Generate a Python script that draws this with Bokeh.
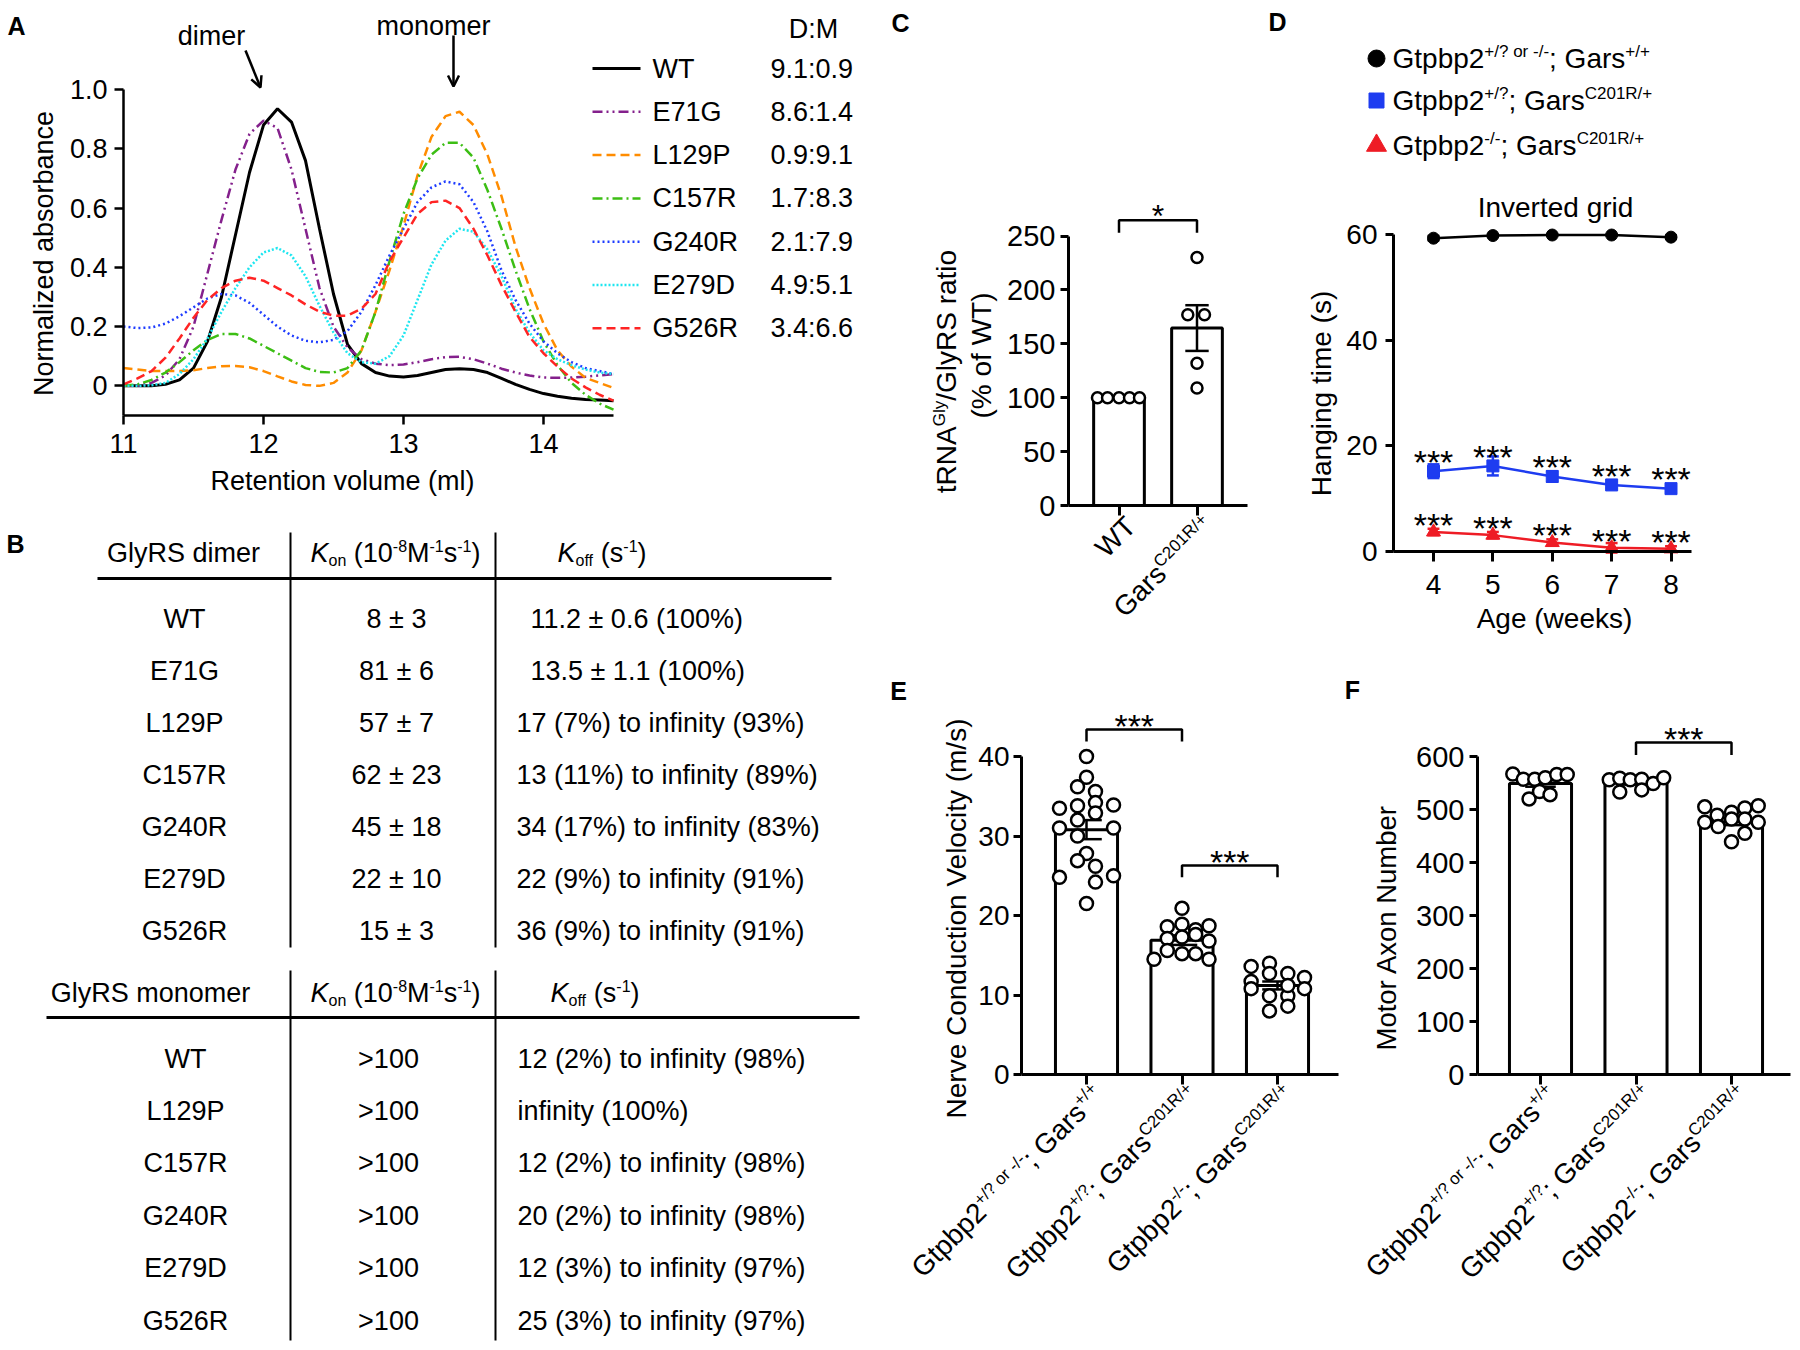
import math
from bokeh.plotting import figure
from bokeh.models import Range1d, FixedTicker, Label, Arrow, OpenHead
from bokeh.layouts import row, column
from bokeh.embed import file_html
from bokeh.resources import INLINE

FONT = "Liberation Sans"

# ---------------- Panel A data ----------------
vol = [11.0, 11.1, 11.2, 11.3, 11.4, 11.5, 11.6, 11.7, 11.8, 11.9, 12.0, 12.1,
       12.2, 12.3, 12.4, 12.5, 12.6, 12.7, 12.8, 12.9, 13.0, 13.1, 13.2, 13.3,
       13.4, 13.5, 13.6, 13.7, 13.8, 13.9, 14.0, 14.1, 14.2, 14.3, 14.4, 14.5]
abs_WT = [0.0, 0.0, 0.0, 0.005, 0.02, 0.06, 0.15, 0.30, 0.51, 0.72, 0.88, 0.935,
          0.89, 0.76, 0.53, 0.31, 0.14, 0.075, 0.045, 0.033, 0.03, 0.035, 0.045, 0.055,
          0.058, 0.055, 0.045, 0.025, 0.005, -0.012, -0.026, -0.035, -0.042, -0.046, -0.048, -0.05]
abs_E71G = [0.0, 0.0, 0.01, 0.035, 0.09, 0.2, 0.38, 0.56, 0.73, 0.85, 0.895, 0.87,
            0.73, 0.53, 0.33, 0.2, 0.13, 0.09, 0.075, 0.07, 0.072, 0.08, 0.09, 0.097,
            0.098, 0.09, 0.075, 0.058, 0.045, 0.035, 0.028, 0.027, 0.028, 0.031, 0.035, 0.04]
abs_L129P = [0.06, 0.055, 0.05, 0.05, 0.05, 0.053, 0.06, 0.066, 0.067, 0.063, 0.05, 0.032,
             0.015, 0.003, 0.0, 0.01, 0.045, 0.12, 0.25, 0.39, 0.54, 0.71, 0.84, 0.91,
             0.925, 0.88, 0.78, 0.64, 0.47, 0.33, 0.21, 0.12, 0.065, 0.027, 0.01, -0.007]
abs_C157R = [0.0, 0.005, 0.02, 0.045, 0.08, 0.12, 0.155, 0.175, 0.175, 0.16, 0.135, 0.11,
             0.085, 0.06, 0.047, 0.045, 0.06, 0.12, 0.25, 0.42, 0.58, 0.70, 0.78, 0.82,
             0.82, 0.77, 0.66, 0.53, 0.39, 0.26, 0.15, 0.07, 0.01, -0.03, -0.06, -0.08]
abs_G240R = [0.2, 0.195, 0.197, 0.21, 0.235, 0.265, 0.295, 0.31, 0.305, 0.28, 0.24, 0.2,
             0.17, 0.152, 0.147, 0.155, 0.185, 0.25, 0.34, 0.44, 0.53, 0.62, 0.67, 0.69,
             0.68, 0.62, 0.52, 0.39, 0.29, 0.21, 0.15, 0.11, 0.08, 0.06, 0.05, 0.04]
abs_E279D = [0.0, 0.0, 0.002, 0.01, 0.04, 0.09, 0.16, 0.25, 0.33, 0.40, 0.45, 0.465,
             0.44, 0.37, 0.27, 0.18, 0.11, 0.08, 0.075, 0.1, 0.17, 0.29, 0.41, 0.49,
             0.53, 0.52, 0.46, 0.37, 0.26, 0.18, 0.12, 0.09, 0.07, 0.055, 0.045, 0.04]
abs_G526R = [0.005, 0.025, 0.05, 0.095, 0.16, 0.23, 0.29, 0.33, 0.355, 0.365, 0.355, 0.33,
             0.305, 0.275, 0.25, 0.237, 0.237, 0.26, 0.31, 0.42, 0.5, 0.58, 0.62, 0.625,
             0.6, 0.53, 0.44, 0.34, 0.25, 0.165, 0.11, 0.065, 0.025, -0.005, -0.03, -0.05]
variants = ["WT", "E71G", "L129P", "C157R", "G240R", "E279D", "G526R"]
dm_ratio = ["9.1:0.9", "8.6:1.4", "0.9:9.1", "1.7:8.3", "2.1:7.9", "4.9:5.1", "3.4:6.6"]
a_xticks = [11, 12, 13, 14]
a_yticks = [0, 0.2, 0.4, 0.6, 0.8, 1.0]
a_ylabels = ["0", "0.2", "0.4", "0.6", "0.8", "1.0"]

# ---------------- Panel B data ----------------
dimer_names = ["WT", "E71G", "L129P", "C157R", "G240R", "E279D", "G526R"]
dimer_kon = ["8 ± 3", "81 ± 6", "57 ± 7", "62 ± 23", "45 ± 18", "22 ± 10", "15 ± 3"]
dimer_koff = ["11.2 ± 0.6 (100%)", "13.5 ± 1.1 (100%)", "17 (7%) to infinity (93%)",
              "13 (11%) to infinity (89%)", "34 (17%) to infinity (83%)",
              "22 (9%) to infinity (91%)", "36 (9%) to infinity (91%)"]
mono_names = ["WT", "L129P", "C157R", "G240R", "E279D", "G526R"]
mono_kon = [">100", ">100", ">100", ">100", ">100", ">100"]
mono_koff = ["12 (2%) to infinity (98%)", "infinity (100%)", "12 (2%) to infinity (98%)",
             "20 (2%) to infinity (98%)", "12 (3%) to infinity (97%)", "25 (3%) to infinity (97%)"]

# ---------------- Panel C data ----------------
c_groups = [1, 2]
c_means = [100.0, 164.6]
c_sems = [0.0, 21.2]
c_vals = [[100, 100, 100, 100, 100], [230, 177, 177, 132, 109]]
c_jit = [[-0.276, -0.147, 0.0, 0.135, 0.263], [0.0, -0.118, 0.096, 0.0, 0.0]]
c_bracket = (1, 2, 264.6, 253.0)
c_yticks = [0, 50, 100, 150, 200, 250]

# ---------------- Panel D data ----------------
weeks = [4, 5, 6, 7, 8]
d_wt = [59.3, 59.8, 59.9, 59.9, 59.5]
d_wt_sem = [0.4, 0.2, 0.1, 0.1, 0.3]
d_het = [15.2, 16.2, 14.2, 12.6, 11.9]
d_het_sem = [1.3, 1.8, 1.0, 0.7, 0.6]
d_ko = [3.7, 3.1, 1.7, 0.7, 0.5]
d_ko_sem = [0.6, 0.6, 0.6, 0.9, 0.5]
d_yticks = [0, 20, 40, 60]

genotypes = [
    [("Gtpbp2", "n"), ("+/? or -/-", "sup"), ("; Gars", "n"), ("+/+", "sup")],
    [("Gtpbp2", "n"), ("+/?", "sup"), ("; Gars", "n"), ("C201R/+", "sup")],
    [("Gtpbp2", "n"), ("-/-", "sup"), ("; Gars", "n"), ("C201R/+", "sup")],
]

# ---------------- Panel E data ----------------
e_groups = [1, 2, 3]
e_means = [30.8, 16.9, 11.2]
e_sems = [1.2, 0.6, 0.5]
e_vals = [
    [40.0, 37.4, 36.2, 35.6, 33.5, 33.8, 34.2, 33.9, 32.0, 32.9, 31.0, 31.0, 30.0, 27.8,
     26.9, 26.2, 24.8, 24.2, 25.0, 21.5],
    [20.9, 18.6, 18.9, 18.2, 18.7, 17.1, 17.3, 17.6, 16.8, 14.5, 15.6, 15.2, 15.2, 14.5],
    [13.6, 14.0, 12.7, 12.7, 12.2, 11.7, 10.8, 10.8, 9.9, 9.9, 8.0, 8.6, 11.2],
]
e_jit = [
    [0.0, 0.0, -0.094, 0.094, -0.283, -0.094, 0.094, 0.283, -0.094, 0.094, -0.283, 0.283,
     -0.094, 0.0, -0.094, 0.094, -0.283, 0.094, 0.283, 0.0],
    [0.0, -0.154, 0.0, 0.143, 0.283, -0.154, 0.0, 0.143, 0.283, -0.293, -0.154, 0.0, 0.143, 0.283],
    [-0.276, -0.084, -0.084, 0.108, 0.283, -0.276, -0.276, 0.283, -0.084, 0.108, -0.084, 0.108, 0.108],
]
e_brackets = [(1, 2, 43.4, 41.9), (2, 3, 26.3, 24.8)]
e_yticks = [0, 10, 20, 30, 40]

# ---------------- Panel F data ----------------
f_means = [549.0, 550.0, 477.0]
f_sems = [6.0, 3.0, 6.5]
f_vals = [
    [567, 557, 557, 560, 566, 566, 520, 534, 528],
    [556, 559, 556, 557, 549, 560, 533, 537],
    [505, 489, 495, 503, 507, 476, 468, 482, 482, 476, 439, 455],
]
f_jit = [
    [-0.29, -0.18, -0.06, 0.05, 0.17, 0.28, -0.12, -0.01, 0.10],
    [-0.28, -0.17, -0.06, 0.06, 0.18, 0.29, -0.17, 0.06],
    [-0.28, -0.15, 0.0, 0.14, 0.28, -0.28, -0.14, 0.0, 0.14, 0.28, 0.0, 0.14],
]
f_brackets = [(2, 3, 626.6, 603.0)]
f_yticks = [0, 100, 200, 300, 400, 500, 600]

# ---------------- helpers ----------------
AW = {' ': 278, '!': 278, '%': 889, '(': 333, ')': 333, '*': 389, '+': 584, ',': 278,
      '-': 333, '.': 278, '/': 278, ':': 278, ';': 278, '>': 584, '?': 556, '±': 549,
      'A': 667, 'B': 667, 'C': 722, 'D': 722, 'E': 667, 'F': 611, 'G': 778, 'H': 722,
      'I': 278, 'J': 500, 'K': 667, 'L': 556, 'M': 833, 'N': 722, 'O': 778, 'P': 667,
      'Q': 778, 'R': 722, 'S': 667, 'T': 611, 'U': 722, 'V': 667, 'W': 944, 'X': 667,
      'Y': 667, 'Z': 611, 'a': 556, 'b': 556, 'c': 500, 'd': 556, 'e': 556, 'f': 278,
      'g': 556, 'h': 556, 'i': 222, 'j': 222, 'k': 500, 'l': 222, 'm': 833, 'n': 556,
      'o': 556, 'p': 556, 'q': 556, 'r': 333, 's': 500, 't': 278, 'u': 556, 'v': 500,
      'w': 722, 'x': 500, 'y': 500, 'z': 500}
MID = 0.36  # distance (in em) from baseline to the 'middle' anchor


def tw(s, size):
    return sum(AW.get(ch, 556) for ch in s) * size / 1000.0


class Panel:
    """A figure whose frame fills the whole figure; positions given in page pixels."""

    def __init__(self, X0, Y0, W, H, xmap=None, ymap=None):
        xmap = xmap or (0, 0, 1.0)
        ymap = ymap or (0, 0, -1.0)
        Xp, xv, xs = xmap
        Yp, yv, ys = ymap
        xr = (xv - (Xp - X0) / xs, xv + (X0 + W - Xp) / xs)
        yr = (yv - (Y0 + H - Yp) / ys, yv + (Yp - Y0) / ys)
        self.fl, self.fr, self.ft, self.fb = X0, X0 + W, Y0, Y0 + H
        self.xr, self.yr = xr, yr
        p = figure(width=W, height=H, x_range=Range1d(*xr), y_range=Range1d(*yr),
                   output_backend="svg", toolbar_location=None)
        p.min_border_left = 0
        p.min_border_right = 0
        p.min_border_top = 0
        p.min_border_bottom = 0
        p.outline_line_color = None
        p.background_fill_color = "white"
        p.border_fill_color = "white"
        p.xgrid.visible = False
        p.ygrid.visible = False
        self.p = p

    def hide_axes(self):
        self.p.xaxis.visible = False
        self.p.yaxis.visible = False

    def x(self, X):
        return self.xr[0] + (X - self.fl) / (self.fr - self.fl) * (self.xr[1] - self.xr[0])

    def y(self, Y):
        return self.yr[0] + (self.fb - Y) / (self.fb - self.ft) * (self.yr[1] - self.yr[0])

    def X(self, v):
        return self.fl + (v - self.xr[0]) / (self.xr[1] - self.xr[0]) * (self.fr - self.fl)

    def Y(self, v):
        return self.fb - (v - self.yr[0]) / (self.yr[1] - self.yr[0]) * (self.fb - self.ft)

    def text(self, X, Y, s, size, angle=0.0, align="left", baseline="middle",
             bold=False, italic=False, color="black"):
        style = "bold" if bold else ("italic" if italic else "normal")
        self.p.add_layout(Label(x=self.x(X), y=self.y(Y), text=s, angle=angle,
                                text_font=FONT, text_font_size=f"{size:.1f}px",
                                text_align=align, text_baseline=baseline,
                                text_font_style=style, text_color=color))

    def rich(self, X, Y, pieces, size, small, angle_deg=0.0, anchor="start", rise=0.38, drop=0.15):
        """(X, Y) is a point on the main baseline (start, centre or end)."""
        th = math.radians(angle_deg)
        ux, uy = math.cos(th), -math.sin(th)
        vx, vy = -math.sin(th), -math.cos(th)
        total = sum(tw(t, size if k in ("n", "i") else small) for t, k in pieces)
        if anchor == "end":
            X -= total * ux
            Y -= total * uy
        elif anchor == "center":
            X -= total * ux / 2
            Y -= total * uy / 2
        adv = 0.0
        for t, k in pieces:
            if k in ("n", "i"):
                sz, sh = size, 0.0
            elif k == "sup":
                sz, sh = small, rise * size
            else:
                sz, sh = small, -drop * size
            body = t.lstrip()
            lead = tw(t[:len(t) - len(body)], sz)
            a = adv + lead
            sh2 = sh + MID * sz
            self.text(X + a * ux + sh2 * vx, Y + a * uy + sh2 * vy, body, sz, angle=th,
                      italic=(k == "i"))
            adv += tw(t, sz)


def style_axis(ax, size, lw=3.0, tick=8, standoff=6):
    ax.axis_line_width = lw
    ax.axis_line_color = "black"
    ax.major_tick_line_width = lw
    ax.major_tick_line_color = "black"
    ax.major_tick_out = tick
    ax.major_tick_in = 0
    ax.minor_tick_line_color = None
    ax.major_label_text_font = FONT
    ax.major_label_text_font_size = f"{size}px"
    ax.major_label_text_color = "black"
    ax.major_label_standoff = standoff


def setup_axes(P, x_at, y_at, xb, yb, xticks, yticks, size, lw=3.0, xtick=10, ytick=8,
               xstand=8, ystand=6, hide_xlabels=False):
    xa = P.p.xaxis[0]
    style_axis(xa, size, lw, xtick, xstand)
    xa.fixed_location = x_at
    xa.bounds = xb
    xa.ticker = FixedTicker(ticks=xticks)
    if hide_xlabels:
        xa.major_label_overrides = {t: "" for t in xticks}
    ya = P.p.yaxis[0]
    style_axis(ya, size, lw, ytick, ystand)
    ya.fixed_location = y_at
    ya.bounds = yb
    ya.ticker = FixedTicker(ticks=yticks)
    return xa, ya


def bar_panel(P, groups, means, sems, vals, jit, size, cap, bw=0.65):
    P.p.vbar(x=groups, top=means, bottom=0, width=bw, fill_color="white",
             line_color="black", line_width=3)
    lo = [m - s for m, s in zip(means, sems)]
    hi = [m + s for m, s in zip(means, sems)]
    P.p.segment(x0=groups, y0=lo, x1=groups, y1=hi, line_color="black", line_width=2.5)
    P.p.segment(x0=[g - cap for g in groups], y0=hi, x1=[g + cap for g in groups], y1=hi,
                line_color="black", line_width=2.5)
    P.p.segment(x0=[g - cap for g in groups], y0=lo, x1=[g + cap for g in groups], y1=lo,
                line_color="black", line_width=2.5)
    xs, ys = [], []
    for g, vv, jj in zip(groups, vals, jit):
        xs += [g + j for j in jj]
        ys += list(vv)
    P.p.scatter(xs, ys, marker="circle", size=size, fill_color="white",
                line_color="black", line_width=2.5)


def brackets(P, br, star_text, star_size=34):
    for x0, x1, yb, yd in br:
        P.p.line([x0, x0, x1, x1], [yd, yb, yb, yd], line_color="black", line_width=2.5)
        # asterisk centre ~11 px above the bracket; asterisk sits 0.215 em above 'middle'
        P.text(P.X((x0 + x1) / 2), P.Y(yb) - 11 + 0.215 * star_size, star_text, star_size,
               align="center")


# ================= Panel A =================
ppy = (415 - 89) / 1.1
A = Panel(0, 0, 880, 500, xmap=(123, 11.0, 140.0), ymap=(415, -0.1, ppy))
curves = [abs_WT, abs_E71G, abs_L129P, abs_C157R, abs_G240R, abs_E279D, abs_G526R]
colors = ["#000000", "#84208C", "#FF8C00", "#3CBE14", "#1E3CFF", "#1EE6F0", "#FF2424"]
dashes = ["solid", "10 4 2 4 2 4", "9 5", "10 4 2 4", "2 3", "2 2", "9 5"]
widths = [3.0, 2.5, 2.5, 2.5, 2.5, 2.5, 2.5]
for ys, col, dash, lw in zip(curves, colors, dashes, widths):
    A.p.line(vol, ys, line_color=col, line_dash=dash, line_width=lw)
for i, (name, ratio, col, dash, lw) in enumerate(zip(variants, dm_ratio, colors, dashes, widths)):
    Yc = 68 + 43.3 * i
    A.p.line([A.x(592), A.x(640)], [A.y(Yc), A.y(Yc)], line_color=col, line_dash=dash, line_width=lw)
    A.text(652, Yc, name, 27)
    A.text(770, Yc, ratio, 27)
A.text(813, 28, "D:M", 27, align="center")
xa, ya = setup_axes(A, -0.1, 11.0, (11, 14.5), (-0.1, 1.0), a_xticks, a_yticks, 27,
                    lw=2.5, xtick=9, ytick=9, xstand=9, ystand=7)
ya.major_label_overrides = {t: s for t, s in zip(a_yticks, a_ylabels)}
A.text(211, 35, "dimer", 27, align="center")
A.text(433, 25, "monomer", 27, align="center")
A.p.add_layout(Arrow(end=OpenHead(size=11, line_width=2.5), x_start=A.x(245), y_start=A.y(50),
                     x_end=A.x(260), y_end=A.y(87), line_width=2.5))
A.p.add_layout(Arrow(end=OpenHead(size=11, line_width=2.5), x_start=A.x(453), y_start=A.y(35),
                     x_end=A.x(453), y_end=A.y(86), line_width=2.5))
A.text(43, 253, "Normalized absorbance", 27, angle=math.pi / 2, align="center")
A.text(342, 480, "Retention volume (ml)", 27, align="center")
A.text(16, 25, "A", 25, align="center", bold=True)

# ================= Panel B (table) =================
B = Panel(0, 500, 880, 842)
B.hide_axes()
B.p.segment(x0=[97, 46], y0=[578, 1017], x1=[831, 859], y1=[578, 1017], line_color="black", line_width=3)
B.p.segment(x0=[290, 495, 290, 495], y0=[532, 532, 970, 970], x1=[290, 495, 290, 495],
            y1=[947, 947, 1340, 1340], line_color="black", line_width=2)
TS = 27
kon_head = [("K", "i"), ("on", "sub"), (" (10", "n"), ("-8", "sup"), ("M", "n"), ("-1", "sup"),
            ("s", "n"), ("-1", "sup"), (")", "n")]
koff_head = [("K", "i"), ("off", "sub"), (" (s", "n"), ("-1", "sup"), (")", "n")]
B.text(183, 552, "GlyRS dimer", TS, align="center")
B.rich(310, 562, kon_head, TS, 16)
B.rich(557, 562, koff_head, TS, 16)
for i, (n, k, ko) in enumerate(zip(dimer_names, dimer_kon, dimer_koff)):
    Yr = 618 + 52 * i
    B.text(184, Yr, n, TS, align="center")
    B.text(396, Yr, k, TS, align="center")
    B.text(530 if "±" in ko else 516, Yr, ko, TS)
B.text(150, 992, "GlyRS monomer", TS, align="center")
B.rich(310, 1002, kon_head, TS, 16)
B.rich(550, 1002, koff_head, TS, 16)
for i, (n, k, ko) in enumerate(zip(mono_names, mono_kon, mono_koff)):
    Yr = 1058 + 52.4 * i
    B.text(185, Yr, n, TS, align="center")
    B.text(388, Yr, k, TS, align="center")
    B.text(517, Yr, ko, TS)
B.text(15, 543, "B", 25, align="center", bold=True)

# ================= Panel C =================
cpy = (505 - 235.5) / 250.0
C = Panel(880, 0, 383, 660, xmap=(1118.5, 1.0, 78.0), ymap=(505, 0.0, cpy))
bar_panel(C, c_groups, c_means, c_sems, c_vals, c_jit, 11, 0.15)
brackets(C, [c_bracket], "*", 32)
setup_axes(C, 0.0, C.x(1068), (C.x(1068), C.x(1247)), (0, 250), c_groups, c_yticks, 29,
           ystand=5, hide_xlabels=True)
C.rich(956, 371, [("tRNA", "n"), ("Gly", "sup"), ("/GlyRS ratio", "n")], 28, 17,
       angle_deg=90, anchor="center")
C.text(981, 355, "(% of WT)", 28, angle=math.pi / 2, align="center")
c_xlabels = [[("WT", "n")], [("Gars", "n"), ("C201R/+", "sup")]]
for g, pcs in zip(c_groups, c_xlabels):
    C.rich(C.X(g) + 19, 505 + 23, pcs, 28, 17, angle_deg=45, anchor="end")
C.text(900, 22, "C", 25, align="center", bold=True)

# ================= Panel D =================
dpy = (551 - 234) / 60.0
dpx = (1670.5 - 1433) / 4.0
D = Panel(1263, 0, 529, 660, xmap=(1433, 4.0, dpx), ymap=(551, 0.0, dpy))
d_colors = ["black", "#1E3CF0", "#EE1C25"]
D.p.scatter([D.x(1376)] * 3, [D.y(58), D.y(100), D.y(145)], marker=["circle", "square", "triangle"],
            size=[17, 15, 20], fill_color=d_colors, line_color=d_colors)
for Yb, pcs in zip([68, 110, 155], genotypes):
    D.rich(1392, Yb, pcs, 28, 17)
D.text(1277, 21, "D", 25, align="center", bold=True)
for means, sems, col, mk, sz in [(d_wt, d_wt_sem, "black", "circle", 12),
                                 (d_het, d_het_sem, d_colors[1], "square", 12),
                                 (d_ko, d_ko_sem, d_colors[2], "triangle", 14)]:
    lo = [m - s for m, s in zip(means, sems)]
    hi = [m + s for m, s in zip(means, sems)]
    D.p.line(weeks, means, line_color=col, line_width=2.5)
    D.p.segment(x0=weeks, y0=lo, x1=weeks, y1=hi, line_color=col, line_width=2.5)
    D.p.segment(x0=[w - 0.1 for w in weeks], y0=hi, x1=[w + 0.1 for w in weeks], y1=hi,
                line_color=col, line_width=2.5)
    D.p.segment(x0=[w - 0.1 for w in weeks], y0=lo, x1=[w + 0.1 for w in weeks], y1=lo,
                line_color=col, line_width=2.5)
    D.p.scatter(weeks, means, marker=mk, size=sz, fill_color=col, line_color=col)
for w, m in zip(weeks, d_het):
    D.text(D.X(w), D.Y(m) - 16.5 + 0.215 * 34, "***", 34, align="center")
for w, m in zip(weeks, d_ko):
    D.text(D.X(w), D.Y(m) - 14.5 + 0.215 * 34, "***", 34, align="center")
setup_axes(D, 0.0, D.x(1393), (D.x(1393), D.x(1691)), (0, 60), weeks, d_yticks, 28,
           xstand=13, ystand=8)
D.text(1555, 207, "Inverted grid", 28, align="center")
D.text(1321, 393, "Hanging time (s)", 28, angle=math.pi / 2, align="center")
D.text(1554, 618, "Age (weeks)", 28, align="center")

# ================= Panel E =================
epy = (1074 - 756) / 40.0
E = Panel(880, 660, 460, 682, xmap=(1086, 1.0, 95.5), ymap=(1074, 0.0, epy))
bar_panel(E, e_groups, e_means, e_sems, e_vals, e_jit, 13, 0.16)
brackets(E, e_brackets, "***", 34)
setup_axes(E, 0.0, E.x(1021), (E.x(1021), E.x(1338)), (0, 40), e_groups, e_yticks, 28,
           ystand=4, hide_xlabels=True)
for g, pcs in zip(e_groups, genotypes):
    E.rich(E.X(g) + 19, 1074 + 23, pcs, 28, 17, angle_deg=45, anchor="end")
E.text(956, 918, "Nerve Conduction Velocity (m/s)", 28, angle=math.pi / 2, align="center")
E.text(898, 690, "E", 25, align="center", bold=True)

# ================= Panel F =================
fpy = (1074 - 756) / 600.0
F = Panel(1340, 660, 452, 682, xmap=(1540, 1.0, 95.5), ymap=(1074, 0.0, fpy))
bar_panel(F, e_groups, f_means, f_sems, f_vals, f_jit, 13, 0.16)
brackets(F, f_brackets, "***", 34)
setup_axes(F, 0.0, F.x(1477), (F.x(1477), F.x(1790)), (0, 600), e_groups, f_yticks, 29,
           ystand=5, hide_xlabels=True)
for g, pcs in zip(e_groups, genotypes):
    F.rich(F.X(g) + 19, 1074 + 23, pcs, 28, 17, angle_deg=45, anchor="end")
F.text(1386, 927, "Motor Axon Number", 27.5, angle=math.pi / 2, align="center")
F.text(1352, 689, "F", 25, align="center", bold=True)

layout = row(column(A.p, B.p),
             column(row(C.p, D.p), row(E.p, F.p)))
open("out.html", "w").write(file_html(layout, INLINE, "Figure"))
